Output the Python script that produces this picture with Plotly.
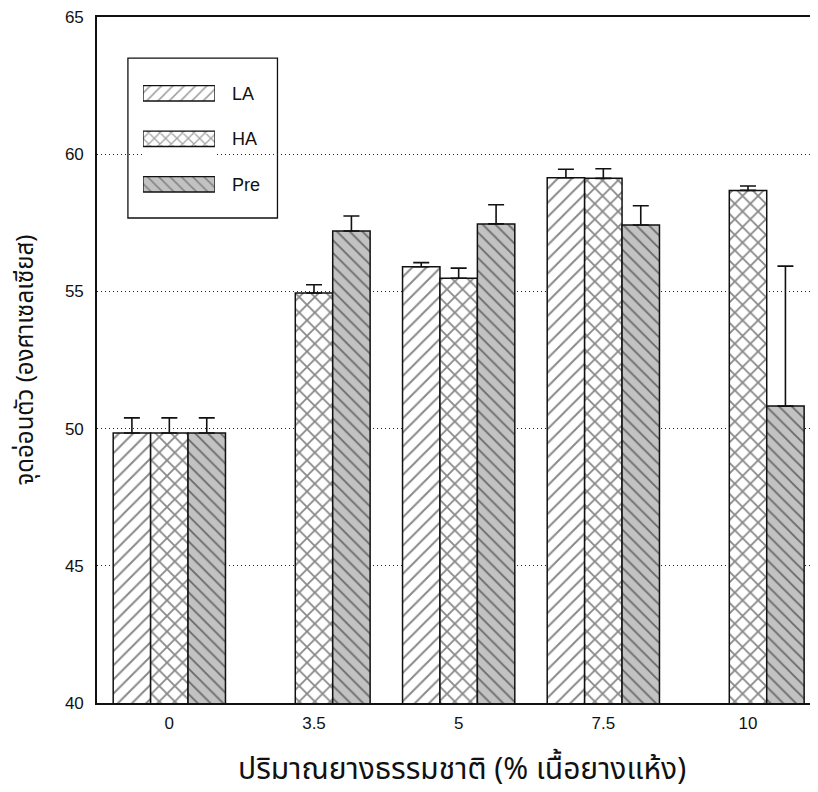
import plotly.graph_objects as go

categories = ["0", "3.5", "5", "7.5", "10"]
series_names = ["LA", "HA", "Pre"]
la_values = [49.84, None, 55.9, 59.14, None]
la_errors = [0.55, 0, 0.15, 0.31, 0]
ha_values = [49.84, 54.94, 55.48, 59.12, 58.68]
ha_errors = [0.55, 0.3, 0.37, 0.35, 0.16]
pre_values = [49.84, 57.2, 57.46, 57.42, 50.82]
pre_errors = [0.55, 0.55, 0.7, 0.7, 5.1]
y_ticks = [40, 45, 50, 55, 60, 65]

patterns = {"LA": ("/", "white", 10, 0.2), "HA": ("x", "white", 11, 0.3), "Pre": ("\\", "#c2c2c2", 9, 0.2)}

fig = go.Figure()
for name, vals, errs in [("LA", la_values, la_errors), ("HA", ha_values, ha_errors), ("Pre", pre_values, pre_errors)]:
    shp, bg, sz, sol = patterns[name]
    fig.add_trace(go.Bar(
        x=categories, y=vals, name=name, showlegend=False,
        marker=dict(color=bg, line=dict(color="#111", width=1.5),
                    pattern=dict(shape=shp, fgcolor="#111", bgcolor=bg, size=sz, solidity=sol, fillmode="overlay")),
        error_y=dict(type="data", symmetric=False, array=errs, arrayminus=[0]*len(errs),
                     color="#111", thickness=1.6, width=8),
    ))

# legend drawn as inset swatches
fig.add_trace(go.Bar(
    y=series_names, x=[1, 1, 1], orientation="h", width=0.34, showlegend=False,
    xaxis="x2", yaxis="y2", hoverinfo="skip",
    marker=dict(color=[patterns[n][1] for n in series_names], line=dict(color="#111", width=1.3),
                pattern=dict(shape=[patterns[n][0] for n in series_names], fgcolor="#111",
                             bgcolor=[patterns[n][1] for n in series_names], size=8,
                             solidity=[patterns[n][3] for n in series_names])),
))

fig.add_shape(type="rect", xref="paper", yref="paper", x0=0.043, x1=0.251, y0=0.707, y1=0.940,
              line=dict(color="#111", width=1.3), fillcolor="white", layer="below")

font_num = "Liberation Sans, Arial, sans-serif"
font_thai = "Noto Sans Thai, Noto Sans, Loma, Garuda, sans-serif"

fig.add_annotation(text="ปริมาณยางธรรมชาติ (% เนื้อยางแห้ง)", xref="paper", yref="paper",
                   x=0.507, y=-0.098, xanchor="center", yanchor="middle", showarrow=False,
                   font=dict(family=font_thai, size=30, color="#111"))

fig.update_layout(
    width=810, height=784,
    margin=dict(l=89, r=0, t=9, b=89),
    plot_bgcolor="white", paper_bgcolor="white",
    barmode="group", bargap=0.224, bargroupgap=0,
    font=dict(family=font_num, color="#111", size=17),
    xaxis=dict(type="category", categoryorder="array", categoryarray=categories,
               range=[-0.5, 4.47], showgrid=False, showline=True, linecolor="#111", linewidth=1.6,
               mirror=True, ticks="", ticklabelstandoff=4, tickfont=dict(size=17, family=font_num)),
    yaxis=dict(range=[40, 65], tickvals=y_ticks, showgrid=True, gridcolor="#222", griddash="1px,3px", gridwidth=1.2,
               showline=True, linecolor="#111", linewidth=1.6, mirror=True, ticks="", zeroline=False,
               ticklabelstandoff=8, ticklabeloverflow="allow", tickfont=dict(size=17, family=font_num),
               title=dict(text="จุดอ่อนตัว (องศาเซลเซียส)", font=dict(family=font_thai, size=24), standoff=24)),
    xaxis2=dict(domain=[0.064, 0.164], range=[0, 1], anchor="y2", visible=False, fixedrange=True),
    yaxis2=dict(domain=[0.723, 0.922], anchor="x2", type="category", range=[2.5, -0.5], side="right",
                showgrid=False, showline=False, zeroline=False, ticks="", ticklabelstandoff=16,
                tickfont=dict(size=18, family=font_num), fixedrange=True),
)

fig.write_html("out.html")
